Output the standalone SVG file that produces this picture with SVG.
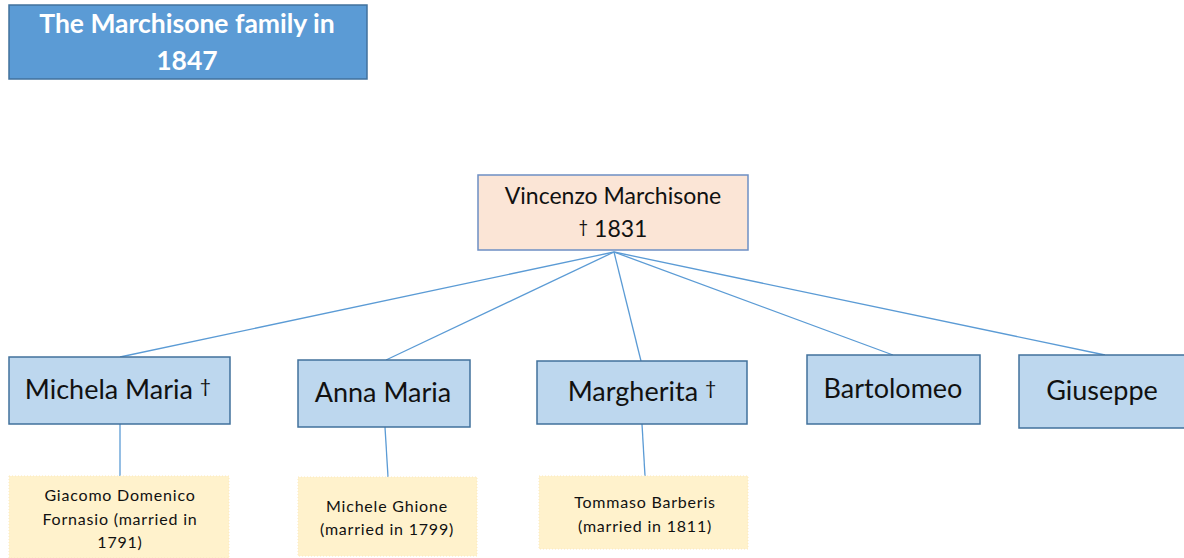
<svg xmlns="http://www.w3.org/2000/svg" width="1184" height="558" viewBox="0 0 1184 558">
<style>
text{font-family:Lato,"Liberation Sans","DejaVu Sans",sans-serif;text-anchor:middle;fill:#111}
.title rect{fill:#5b9bd5;stroke:#41719c;stroke-width:1.5}
.title text{fill:#fff;font-weight:bold;font-size:26.5px}
.root rect{fill:#fbe5d6;stroke:#6d8fc4;stroke-width:1.5}
.root text{font-size:23px}
.child rect{fill:#bdd7ee;stroke:#41719c;stroke-width:1.5}
.child text{font-size:27px}
.dag{font-size:0.72em}
.spouse rect{fill:#fff2cc;stroke:#fbe9bf;stroke-width:1;stroke-dasharray:1 2}
.spouse text{font-size:16px;letter-spacing:0.8px}
#connectors line{stroke:#5b9bd5;stroke-width:1.3}
</style>
<rect width="1184" height="558" fill="#fff"/>
<g id="title" class="title">
<rect x="9" y="5" width="358" height="74"/>
<text x="187" y="33">The Marchisone family in</text>
<text x="187" y="70">1847</text>
</g>
<g id="connectors">
<line x1="614" y1="252" x2="120" y2="357"/>
<line x1="614" y1="252" x2="386" y2="360"/>
<line x1="614" y1="252" x2="641" y2="361"/>
<line x1="614" y1="252" x2="893" y2="355"/>
<line x1="614" y1="252" x2="1105" y2="355"/>
<line x1="120" y1="424" x2="120" y2="476"/>
<line x1="385" y1="427" x2="388" y2="477"/>
<line x1="642" y1="424" x2="645" y2="476"/>
</g>
<g id="vincenzo" class="root">
<rect x="478" y="175" width="270" height="75"/>
<text x="613" y="204">Vincenzo Marchisone</text>
<text x="613" y="237"><tspan class="dag" dy="-4">†</tspan><tspan dy="4"> 1831</tspan></text>
</g>
<g id="michela" class="child">
<rect x="9" y="357" width="221" height="67"/>
<text x="118" y="399">Michela Maria <tspan class="dag" dy="-6">†</tspan></text>
</g>
<g id="anna" class="child">
<rect x="298" y="360" width="172" height="67"/>
<text x="383" y="402">Anna Maria</text>
</g>
<g id="margherita" class="child">
<rect x="537" y="361" width="210" height="63"/>
<text x="642" y="401">Margherita <tspan class="dag" dy="-6">†</tspan></text>
</g>
<g id="bartolomeo" class="child">
<rect x="807" y="355" width="173" height="69"/>
<text x="893" y="398">Bartolomeo</text>
</g>
<g id="giuseppe" class="child">
<rect x="1019" y="355" width="170" height="73"/>
<text x="1102" y="400">Giuseppe</text>
</g>
<g id="giacomo" class="spouse">
<rect x="9" y="476" width="220" height="82"/>
<text x="120" y="501">Giacomo Domenico</text>
<text x="120" y="525">Fornasio (married in</text>
<text x="120" y="548">1791)</text>
</g>
<g id="michele" class="spouse">
<rect x="298" y="477" width="179" height="79"/>
<text x="387" y="512">Michele Ghione</text>
<text x="387" y="535">(married in 1799)</text>
</g>
<g id="tommaso" class="spouse">
<rect x="539" y="476" width="209" height="73"/>
<text x="645" y="508">Tommaso Barberis</text>
<text x="645" y="532">(married in 1811)</text>
</g>
</svg>
